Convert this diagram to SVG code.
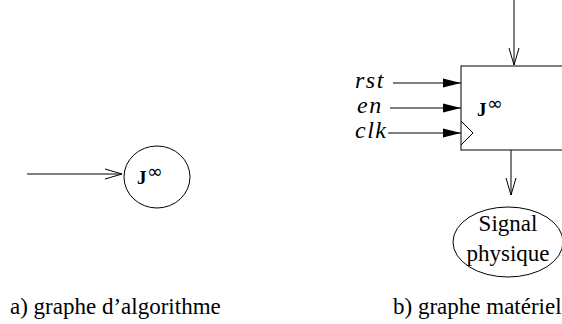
<svg xmlns="http://www.w3.org/2000/svg" width="562" height="324" viewBox="0 0 562 324">
<style>
.ln{stroke:#000;stroke-width:1;fill:none}
.t{font-family:"Liberation Serif",serif;fill:#000;font-size:23px}
.it{font-family:"Liberation Serif",serif;font-style:italic;font-size:24px;letter-spacing:1.5px;fill:#000}
.J{font-family:"Liberation Serif",serif;font-weight:bold;font-size:19px;fill:#000}
.inf{font-family:"DejaVu Sans",sans-serif;font-size:19px;fill:#000}
</style>
<defs>
<marker id="open" markerWidth="20" markerHeight="12" refX="17" refY="5" orient="auto" markerUnits="userSpaceOnUse" overflow="visible">
<path d="M0,0 L17,5 L0,10" fill="none" stroke="#000" stroke-width="1"/>
</marker>
<marker id="fill" markerWidth="20" markerHeight="12" refX="18" refY="4.5" orient="auto" markerUnits="userSpaceOnUse" overflow="visible">
<path d="M0,0 L18,4.5 L0,9 Z" fill="#000"/>
</marker>
</defs>
<g id="connectors">
<line class="ln" x1="27" y1="174" x2="122" y2="174" marker-end="url(#open)"/>
<line class="ln" x1="514" y1="0" x2="514" y2="65" marker-end="url(#open)"/>
<line class="ln" x1="393" y1="83" x2="461" y2="83" marker-end="url(#fill)"/>
<line class="ln" x1="390" y1="108" x2="461" y2="108" marker-end="url(#fill)"/>
<line class="ln" x1="388" y1="133" x2="461" y2="133" marker-end="url(#fill)"/>
<line class="ln" x1="511" y1="150" x2="511" y2="195" marker-end="url(#open)"/>
</g>
<g id="node-algo">
<ellipse class="ln" cx="157" cy="177" rx="33" ry="31"/>
<text class="J" x="137" y="184">J</text><text class="inf" x="147" y="178">∞</text>
</g>
<g id="node-hw">
<rect class="ln" x="461" y="66" width="110" height="84"/>
<path class="ln" d="M461,121 L473,133 L461,145"/>
<text class="J" x="477" y="116">J</text><text class="inf" x="487" y="110">∞</text>
</g>
<g id="labels">
<text class="it" x="355" y="88">rst</text>
<text class="it" x="357" y="113">en</text>
<text class="it" x="355" y="138">clk</text>
</g>
<g id="node-signal">
<ellipse class="ln" cx="508" cy="242" rx="55" ry="35"/>
<text class="t" x="508" y="231" text-anchor="middle">Signal</text>
<text class="t" x="508" y="261" text-anchor="middle">physique</text>
</g>
<g id="captions">
<text class="t" x="10" y="314">a) graphe d’algorithme</text>
<text class="t" x="393" y="314">b) graphe matériel</text>
</g>
</svg>
